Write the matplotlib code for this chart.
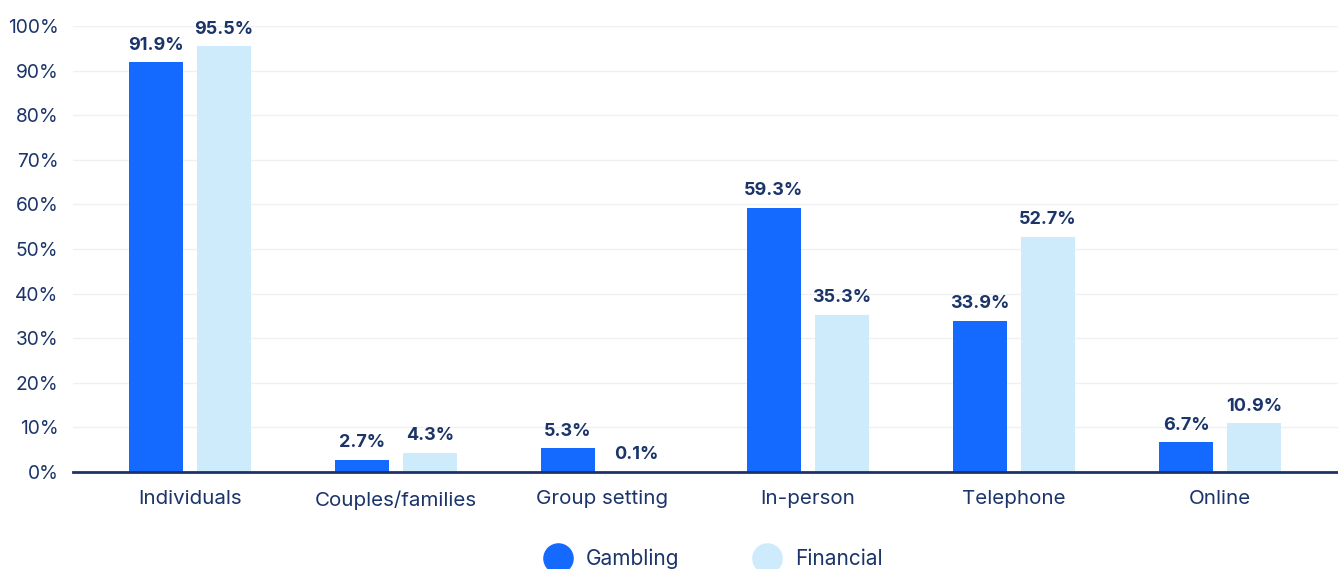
import matplotlib.pyplot as plt
from matplotlib.lines import Line2D
import numpy as np

plt.rcParams['font.family'] = ['Inter', 'DejaVu Sans']

categories = ['Individuals', 'Couples/families', 'Group setting', 'In-person', 'Telephone', 'Online']
gambling = [91.9, 2.7, 5.3, 59.3, 33.9, 6.7]
financial = [95.5, 4.3, 0.1, 35.3, 52.7, 10.9]
yticks = [0, 10, 20, 30, 40, 50, 60, 70, 80, 90, 100]

blue = '#146aff'
light = '#cdebfb'
navy = '#1b3469'

fig = plt.figure(figsize=(13.38, 5.69), dpi=100)
ax = fig.add_axes([73 / 1338, 97 / 569, 1265 / 1338, 446 / 569])

x = np.arange(len(categories))
w = 0.262
b1 = ax.bar(x - 0.165, gambling, w, color=blue, zorder=3)
b2 = ax.bar(x + 0.165, financial, w, color=light, zorder=3)

# value labels above each bar
for bars, vals in ((b1, gambling), (b2, financial)):
    for r, v in zip(bars, vals):
        ax.text(r.get_x() + r.get_width() / 2, v + 1.9, f'{v}%', ha='center', va='bottom',
                fontsize=13, fontweight='bold', color=navy, clip_on=False)

ax.set_xlim(-0.568, 5.573)
ax.set_ylim(0, 100)
ax.set_yticks(yticks)
ax.set_yticklabels([f'{t}%' for t in yticks])
ax.set_xticks(x)
ax.set_xticklabels(categories)
ax.tick_params(axis='both', length=0, colors=navy)
ax.tick_params(axis='x', pad=13, labelsize=14.8)
ax.tick_params(axis='y', pad=10.5, labelsize=13.8)
ax.grid(axis='y', color='#f0f0f0', linewidth=1, zorder=0)
for s in ['top', 'right', 'left']:
    ax.spines[s].set_visible(False)
ax.spines['bottom'].set_color(navy)
ax.spines['bottom'].set_linewidth(2)
ax.spines['bottom'].set_zorder(4)

handles = [Line2D([], [], marker='o', linestyle='none', markersize=21, color=blue),
           Line2D([], [], marker='o', linestyle='none', markersize=21, color=light)]
fig.legend(handles, ['Gambling', 'Financial'], loc='center', bbox_to_anchor=(710 / 1338, 1 - 559 / 569),
           ncol=2, frameon=False, fontsize=15, labelcolor=navy, columnspacing=3.2, handletextpad=0.35)

fig.savefig('out.png', dpi=100)
